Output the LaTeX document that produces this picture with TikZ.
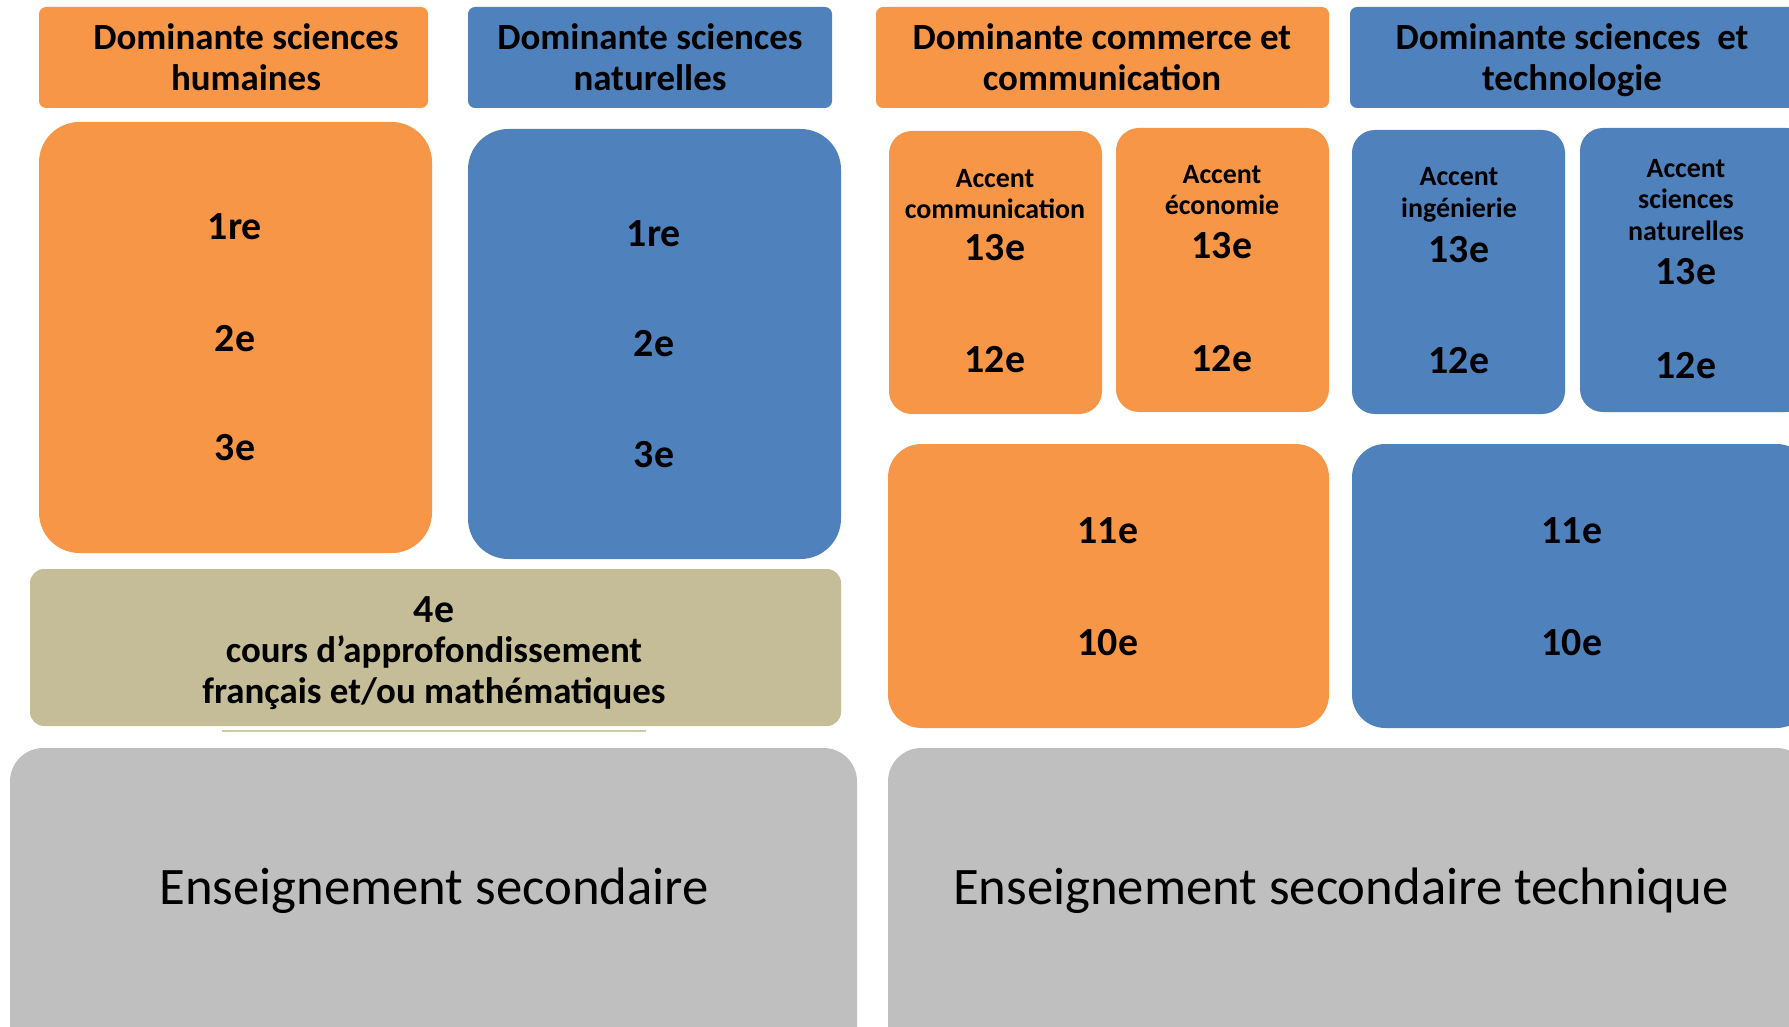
\documentclass[tikz,border=0pt]{standalone}
\usepackage{fontspec}
\setmainfont{Carlito}
\definecolor{boxorange}{HTML}{F79646}
\definecolor{boxblue}{HTML}{4F81BD}
\definecolor{boxtan}{HTML}{C4BD97}
\definecolor{boxgrey}{HTML}{BFBFBF}
\tikzset{
  head/.style={font=\bfseries\fontsize{21}{23.5}\selectfont,align=center},
  grade/.style={font=\bfseries\fontsize{22.7}{26}\selectfont},
  accent/.style={font=\bfseries\fontsize{15.9}{18}\selectfont,align=center},
  level/.style={font=\fontsize{30}{34}\selectfont},
}
\begin{document}
\begin{tikzpicture}[x=0.02cm,y=-0.02cm]
                \useasboundingbox (0,0) rectangle (1789,1027);
                \clip (0,0) rectangle (1789,1027);
                % en-tetes
                \fill[boxorange,rounded corners=4pt] (39,7) rectangle (428,108);
                \fill[boxblue,rounded corners=4pt] (468,7) rectangle (832,108);
                \fill[boxorange,rounded corners=4pt] (876,7) rectangle (1329,108);
                \fill[boxblue,rounded corners=4pt] (1350,7) rectangle (1800,108);
                \node[head] (hSH) at (246,57) {Dominante sciences\\humaines};
                \node[head] (hSN) at (650,57) {Dominante sciences\\naturelles};
                \node[head] (hCC) at (1102,57) {Dominante commerce et\\communication};
                \node[head] (hST) at (1572,60) {Dominante sciences\ \ et\\technologie};
                % enseignement secondaire
                \fill[boxorange,rounded corners=23pt] (39,122) rectangle (432,553);
                \fill[boxblue,rounded corners=23pt] (468,129) rectangle (841,559);
                \node[grade] (sh1) at (235,227) {1re};
                \node[grade] (sh2) at (235,339) {2e};
                \node[grade] (sh3) at (235,448) {3e};
                \node[grade] (sn1) at (654,234) {1re};
                \node[grade] (sn2) at (654,344) {2e};
                \node[grade] (sn3) at (654,455) {3e};
                \fill[boxtan,rounded corners=8pt] (30,569) rectangle (841,726);
                \draw[boxtan!80,line width=1.5pt] (222,731)--(646,731);
                \node[grade] (q4) at (434,610) {4e};
                \node[head,align=center] (q4txt) at (434,673) {cours d’approfondissement\\français et/ou mathématiques};
                % enseignement secondaire technique
                \fill[boxorange,rounded corners=13pt] (889,131) rectangle (1102,414);
                \fill[boxorange,rounded corners=13pt] (1116,128) rectangle (1329,412);
                \fill[boxblue,rounded corners=13pt] (1352,130) rectangle (1565,414);
                \fill[boxblue,rounded corners=13pt] (1580,128) rectangle (1810,412);
                \node[accent] (aCom) at (995,194) {Accent\\communication};
                \node[accent] (aEco) at (1222,190) {Accent\\économie};
                \node[accent] (aIng) at (1459,195) {Accent\\ingénierie};
                \node[accent] (aSN) at (1686,200) {Accent\\sciences\\naturelles};
                \node[grade] (com13) at (995,248) {13e};
                \node[grade] (com12) at (995,360) {12e};
                \node[grade] (eco13) at (1222,246) {13e};
                \node[grade] (eco12) at (1222,359) {12e};
                \node[grade] (ing13) at (1459,250) {13e};
                \node[grade] (ing12) at (1459,361) {12e};
                \node[grade] (sn13) at (1686,272) {13e};
                \node[grade] (sn12) at (1686,366) {12e};
                \fill[boxorange,rounded corners=19pt] (888,444) rectangle (1329,728);
                \fill[boxblue,rounded corners=19pt] (1352,444) rectangle (1810,728);
                \node[grade] (cc11) at (1108,531) {11e};
                \node[grade] (cc10) at (1108,643) {10e};
                \node[grade] (st11) at (1572,531) {11e};
                \node[grade] (st10) at (1572,643) {10e};
                % socle
                \fill[boxgrey,rounded corners=19pt] (10,748) rectangle (857,1060);
                \fill[boxgrey,rounded corners=19pt] (888,748) rectangle (1810,1060);
                \node[level] (es) at (434,891) {Enseignement secondaire};
                \node[level] (est) at (1341,891) {Enseignement secondaire technique};
            \end{tikzpicture}
\end{document}
